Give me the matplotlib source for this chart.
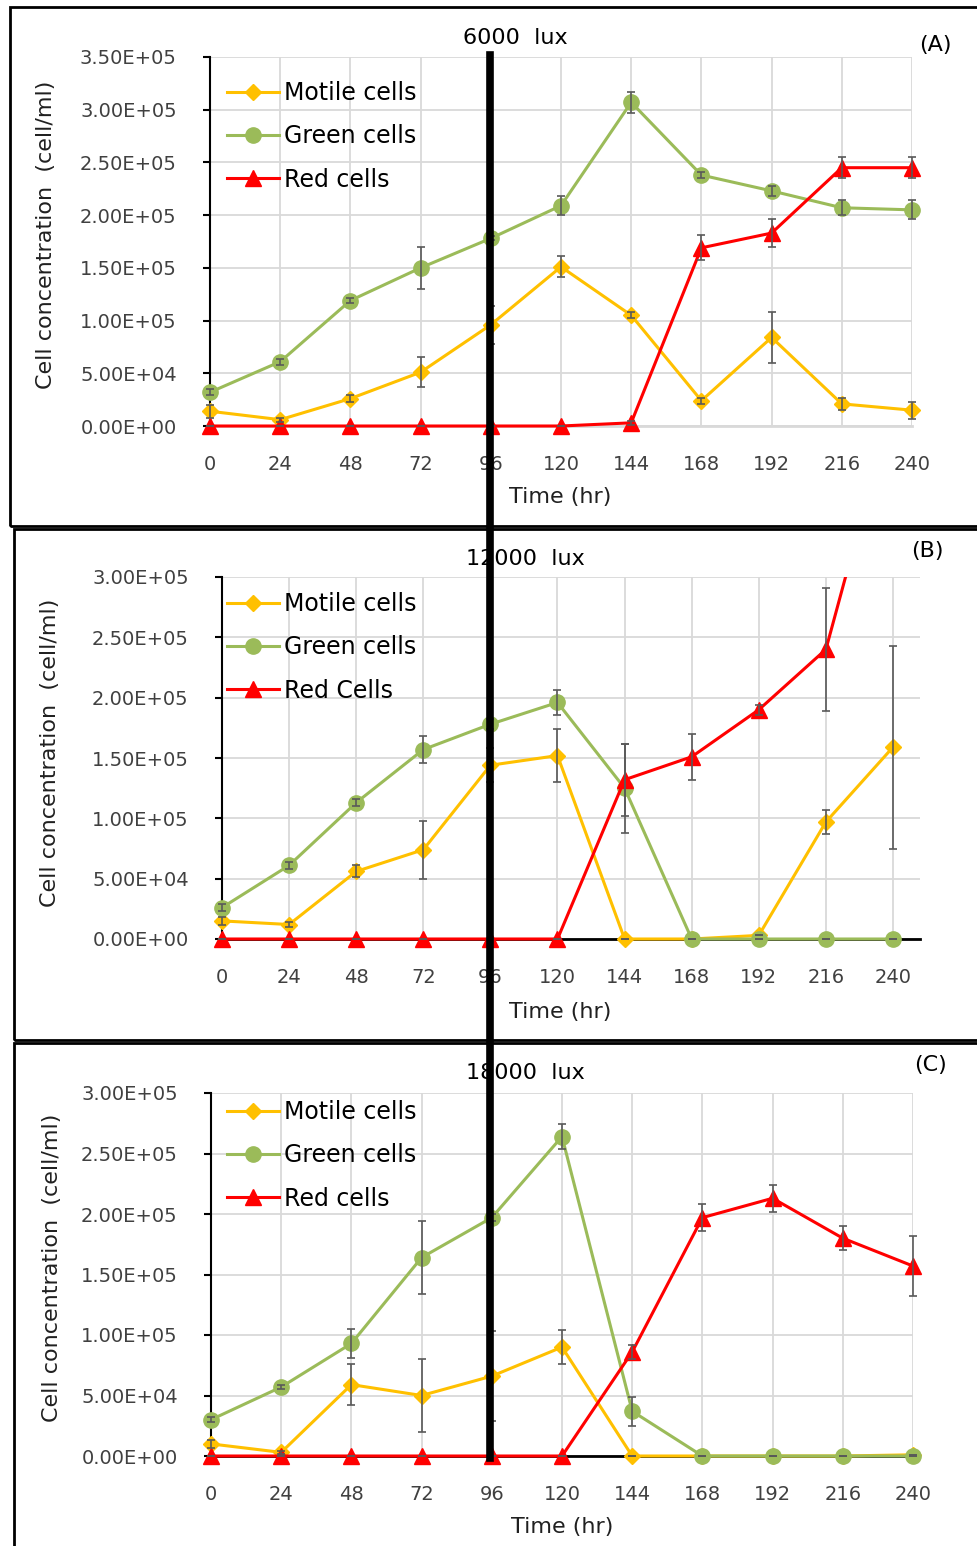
import matplotlib
matplotlib.use("Agg")
import matplotlib.pyplot as plt
from matplotlib.lines import Line2D
from matplotlib.patches import Rectangle
from matplotlib.ticker import FuncFormatter

# ---------------------------------
# Data
# ---------------------------------
hours = [0, 24, 48, 72, 96, 120, 144, 168, 192, 216, 240]
x_ticks = hours

# (A) 6000 lux
a_motile = [1.4e4, 6e3, 2.6e4, 5.1e4, 9.6e4, 1.51e5, 1.05e5, 2.4e4, 8.4e4, 2.1e4, 1.5e4]
a_motile_err = [6e3, 2e3, 3e3, 1.4e4, 1.8e4, 1e4, 3e3, 3e3, 2.4e4, 6e3, 8e3]
a_green = [3.2e4, 6.1e4, 1.19e5, 1.5e5, 1.78e5, 2.09e5, 3.07e5, 2.38e5, 2.23e5, 2.07e5, 2.05e5]
a_green_err = [3e3, 3e3, 2e3, 2e4, 2e3, 9e3, 1e4, 3e3, 5e3, 7e3, 9e3]
a_red = [0, 0, 0, 0, 0, 0, 3e3, 1.69e5, 1.83e5, 2.45e5, 2.45e5]
a_red_err = [0, 0, 0, 0, 0, 0, 2e3, 1.2e4, 1.3e4, 1e4, 1e4]

# (B) 12000 lux
b_motile = [1.5e4, 1.2e4, 5.6e4, 7.4e4, 1.44e5, 1.52e5, 0, 0, 3e3, 9.7e4, 1.59e5]
b_motile_err = [3e3, 2e3, 5e3, 2.4e4, 1.4e4, 2.2e4, 0, 0, 0, 1e4, 8.4e4]
b_green = [2.6e4, 6.1e4, 1.13e5, 1.57e5, 1.78e5, 1.96e5, 1.25e5, 0, 0, 0, 0]
b_green_err = [3e3, 3e3, 3e3, 1.1e4, 4e3, 1e4, 3.7e4, 0, 0, 0, 0]
b_red = [0, 0, 0, 0, 0, 0, 1.32e5, 1.51e5, 1.9e5, 2.4e5, 4.45e5]
b_red_err = [0, 0, 0, 0, 0, 0, 3e4, 1.9e4, 4e3, 5.1e4, 0]

# (C) 18000 lux
c_motile = [1.0e4, 3e3, 5.9e4, 5.0e4, 6.6e4, 9.0e4, 0, 0, 0, 0, 1e3]
c_motile_err = [3e3, 1e3, 1.7e4, 3e4, 3.7e4, 1.4e4, 0, 0, 0, 0, 0]
c_green = [3.0e4, 5.7e4, 9.3e4, 1.64e5, 1.97e5, 2.64e5, 3.7e4, 0, 0, 0, 0]
c_green_err = [2e3, 2e3, 1.2e4, 3e4, 3e3, 1e4, 1.2e4, 0, 0, 0, 0]
c_red = [0, 0, 0, 0, 0, 0, 8.6e4, 1.97e5, 2.13e5, 1.8e5, 1.57e5]
c_red_err = [0, 0, 0, 0, 0, 0, 6e3, 1.1e4, 1.1e4, 1e4, 2.5e4]

W, H = 978, 1546
YELLOW = "#FFC000"
GREEN = "#9BBB59"
RED = "#FF0000"
GRID = "#D9D9D9"
ERR = "#595959"

fig = plt.figure(figsize=(W / 100, H / 100), dpi=100)


def fx(x):
    return x / W


def fy(y):
    return 1 - y / H


def sci(v, pos):
    return "{:.2E}".format(v)


# ---------------------------------
# One panel
# ---------------------------------
def panel(box, xmax, ymax, series, title, title_xy, letter, letter_xy,
          ylabel_xy, xlabel_xy, legend_xy, frame, base_color="black"):
    x0, x1, ytop, ybot = box
    ax = fig.add_axes([fx(x0), fy(ybot), fx(x1 - x0), (ybot - ytop) / H])
    ax.set_xlim(0, xmax)
    ax.set_ylim(0, ymax)

    # clip only at the top, so markers on the edges stay whole
    clip = Rectangle((-0.05, -0.1), 1.1, 1.1, transform=ax.transAxes,
                     fill=False, visible=False)
    ax.add_patch(clip)

    for vals, err, color, marker, ms, label in series:
        eb = ax.errorbar(hours, vals, yerr=err, fmt="none", ecolor=ERR,
                         elinewidth=1.2, capsize=3, capthick=1.2, zorder=4)
        for art in eb.lines[1] + eb.lines[2]:
            art.set_clip_path(clip)
        ln, = ax.plot(hours, vals, color=color, lw=2.2, marker=marker, ms=ms,
                      markeredgecolor=color, label=label, zorder=3)
        ln.set_clip_path(clip)

    ax.set_xticks(x_ticks)
    ax.set_yticks([i * 5e4 for i in range(int(round(ymax / 5e4)) + 1)])
    ax.yaxis.set_major_formatter(FuncFormatter(sci))
    ax.grid(True, color=GRID, lw=1.3)
    ax.set_axisbelow(True)
    for s in ["top", "right"]:
        ax.spines[s].set_visible(False)
    ax.spines["left"].set_color("black")
    ax.spines["left"].set_linewidth(1.5)
    ax.spines["bottom"].set_color(base_color)
    ax.spines["bottom"].set_linewidth(2)
    ax.tick_params(axis="x", length=0, pad=21, labelsize=14)
    ax.tick_params(axis="y", length=5, width=1.5, direction="out", pad=19,
                   labelsize=14)
    for t in ax.get_xticklabels() + ax.get_yticklabels():
        t.set_color("#404040")

    fig.text(fx(title_xy[0]), fy(title_xy[1]), title, fontsize=16,
             ha="center", va="center")
    fig.text(fx(letter_xy[0]), fy(letter_xy[1]), letter, fontsize=16,
             ha="center", va="center")
    fig.text(fx(ylabel_xy[0]), fy(ylabel_xy[1]), "Cell concentration  (cell/ml)",
             fontsize=16, rotation=90, ha="center", va="center", color="#202020")
    fig.text(fx(xlabel_xy[0]), fy(xlabel_xy[1]), "Time (hr)", fontsize=16,
             ha="center", va="center", color="#202020")

    ax.legend(loc="upper left", bbox_to_anchor=(fx(legend_xy[0]), fy(legend_xy[1])),
              bbox_transform=fig.transFigure, frameon=False, fontsize=17,
              handlelength=2.2, handletextpad=0.2, labelspacing=0.82,
              borderaxespad=0, borderpad=0)

    fig.patches.append(Rectangle((fx(frame[0]), fy(frame[3])),
                                 fx(frame[2] - frame[0]), (frame[3] - frame[1]) / H,
                                 transform=fig.transFigure, fill=False,
                                 edgecolor="black", lw=2, zorder=10))
    return ax


panel((210, 912, 57, 426), 240, 3.5e5,
      [(a_motile, a_motile_err, YELLOW, "D", 8, "Motile cells"),
       (a_green, a_green_err, GREEN, "o", 11, "Green cells"),
       (a_red, a_red_err, RED, "^", 11.5, "Red cells")],
      "6000  lux", (515, 38), "(A)", (935, 45), (46, 235), (560, 497),
      (227, 81), (10, 7, 990, 526), base_color=GRID)

panel((222, 920, 577, 939), 240 * 698 / 671, 3e5,
      [(b_motile, b_motile_err, YELLOW, "D", 8, "Motile cells"),
       (b_green, b_green_err, GREEN, "o", 11, "Green cells"),
       (b_red, b_red_err, RED, "^", 11.5, "Red Cells")],
      "12000  lux", (525, 559), "(B)", (927, 551), (50, 753), (560, 1012),
      (227, 592), (14, 529, 990, 1040))

panel((211, 913, 1093, 1456), 240, 3e5,
      [(c_motile, c_motile_err, YELLOW, "D", 8, "Motile cells"),
       (c_green, c_green_err, GREEN, "o", 11, "Green cells"),
       (c_red, c_red_err, RED, "^", 11.5, "Red cells")],
      "18000  lux", (525, 1073), "(C)", (931, 1065), (52, 1268), (562, 1527),
      (227, 1100), (14, 1043, 990, 1570))

# thick vertical marker line across all panels
fig.lines.append(Line2D([fx(490), fx(490)], [fy(55), fy(1458)],
                        transform=fig.transFigure, color="black", lw=5.5, zorder=20))

fig.savefig("out.png", dpi=100)
